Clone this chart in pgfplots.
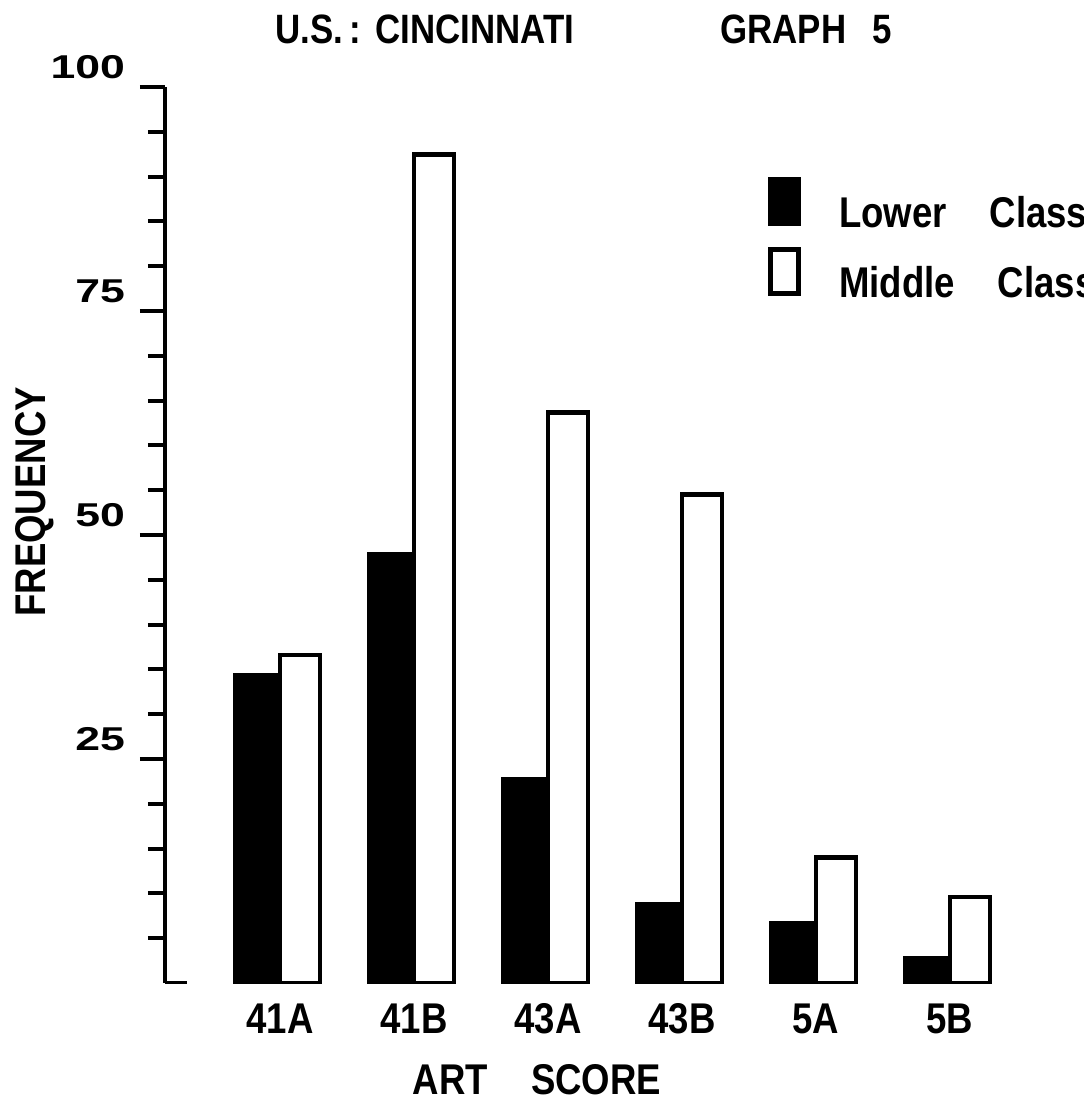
\documentclass[border=0pt]{standalone}
\usepackage{fontspec}
\setmainfont{Liberation Sans}
\newfontfamily\lettering[FakeStretch=0.85]{Liberation Sans}
\newfontfamily\wide[FakeStretch=1.35]{Liberation Sans}
\usepackage{pgfplots}
\pgfplotsset{compat=1.18}
\usetikzlibrary{patterns}

% steep (60 degree) stripes, 5pt apart horizontally
\pgfdeclarepatternformonly{steep}{\pgfqpoint{0pt}{0pt}}{\pgfqpoint{5pt}{8.66pt}}{\pgfqpoint{5pt}{8.66pt}}{
  \pgfsetlinewidth{1.7pt}
  \pgfpathmoveto{\pgfqpoint{-6pt}{-1.732pt}}\pgfpathlineto{\pgfqpoint{1pt}{10.392pt}}
  \pgfpathmoveto{\pgfqpoint{-1pt}{-1.732pt}}\pgfpathlineto{\pgfqpoint{6pt}{10.392pt}}
  \pgfpathmoveto{\pgfqpoint{4pt}{-1.732pt}}\pgfpathlineto{\pgfqpoint{11pt}{10.392pt}}
  \pgfusepath{stroke}
}

% hatched bar: black fill, white stripes, outline redrawn on top
\tikzset{
  hatched/.style={fill=black,
    postaction={pattern=steep, pattern color=white},
    postaction={draw=black, line width=2.4pt}},
}
\pgfplotsset{boxlegend/.style={legend image code/.code={\draw[##1] (0pt,-5pt) rectangle (14pt,17pt);}}}

\begin{document}
\begin{tikzpicture}[font=\fontsize{21.5}{25}\lettering\bfseries]
\path[use as bounding box] (-82.5pt,-63pt) rectangle (459pt,491.5pt);
\begin{axis}[
  at={(0pt,0pt)}, anchor=south west,
  scale only axis, width=417.5pt, height=448pt,
  xmin=-0.858, xmax=5.373, ymin=0, ymax=100,
  axis x line=bottom, axis y line=left,
  x axis line style={draw=none},
  y axis line style={-, line width=2.2pt},
  xtick=data, xticklabels={41A,41B,43A,43B,5A,5B},
  major x tick style={draw=none},
  xticklabel style={anchor=base, yshift=-12.5pt},
  ytick={25,50,75,100},
  minor ytick={5,10,15,20,30,35,40,45,55,60,65,70,80,85,90,95},
  tick align=outside,
  major tick length=12.5pt, minor tick length=8.5pt,
  every tick/.style={black, line width=2pt},
  yticklabel style={font=\fontsize{16.5}{20}\wide\bfseries, yshift=10pt, xshift=-4pt},
  /pgf/number format/assume math mode=true,
  ylabel={FREQUENCY},
  ylabel style={at={(axis description cs:-0.1557,0.537)}, anchor=center, rotate=0},
  xlabel={ART\quad SCORE},
  xlabel style={at={(axis description cs:0.4455,-0.108)}, anchor=center},
  title={\fontsize{20.5}{24}\selectfont U.S.\,:\hspace{7pt}CINCINNATI\hspace{73pt}GRAPH\hspace{13pt}5},
  title style={at={(axis description cs:0.1317,1.0513)}, anchor=west, inner xsep=0pt},
  legend style={at={(axis description cs:0.722,0.8996)}, anchor=north west,
    draw=none, fill=none, row sep=6pt, inner sep=0pt,
    /tikz/every odd column/.append style={column sep=17pt}},
  legend cell align=left,
]
\addplot[ybar, bar width=22.5pt, bar shift=-11.25pt, draw=black, line width=2.4pt, hatched, boxlegend]
  coordinates {(0,34.3) (1,47.8) (2,22.7) (3,8.8) (4,6.6) (5,2.8)};
\addlegendentry{Lower\quad Class}
\addplot[ybar, bar width=20pt, bar shift=10pt, draw=black, line width=2.4pt, fill=white, boxlegend]
  coordinates {(0,36.6) (1,92.5) (2,63.7) (3,54.5) (4,14) (5,9.6)};
\addlegendentry{Middle\quad Class}
\draw[line width=2.4pt] (axis cs:-0.858,0) -- ([xshift=11pt]axis cs:-0.858,0);
\end{axis}
\end{tikzpicture}
\end{document}
